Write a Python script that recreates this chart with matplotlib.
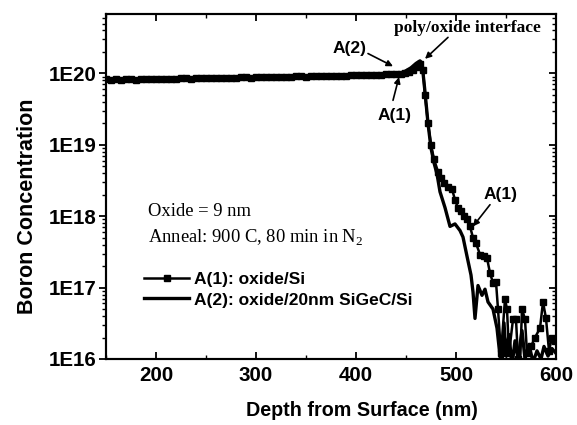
import matplotlib
matplotlib.use("Agg")
import matplotlib.pyplot as plt
from matplotlib.ticker import LogLocator, NullFormatter, MultipleLocator

# ---------------- data ----------------
a1_depth = [150, 155, 160, 165, 170, 175, 180, 185, 190, 195, 200, 205, 210, 215, 220,
            225, 230, 235, 240, 245, 250, 255, 260, 265, 270, 275, 280, 285, 290, 295,
            300, 305, 310, 315, 320, 325, 330, 335, 340, 345, 350, 355, 360, 365, 370,
            375, 380, 385, 390, 395, 400, 405, 410, 415, 420, 425, 430, 435, 440, 445,
            449, 453, 457, 461, 464, 467, 469, 472,
            475, 478, 482, 485, 488, 492, 496, 499, 502, 505, 508, 511, 514, 517, 520,
            524, 528, 531, 534, 537, 540, 542, 545, 549, 551, 553, 557, 560, 562, 564,
            566, 569, 571, 575, 579, 584, 587, 590, 593, 596, 599]
a1_conc = [8.3e19, 8.2e19, 8.3e19, 8.2e19, 8.3e19, 8.3e19, 8.2e19, 8.3e19, 8.4e19, 8.3e19,
           8.3e19, 8.4e19, 8.4e19, 8.3e19, 8.4e19, 8.5e19, 8.5e19, 8.4e19, 8.5e19, 8.6e19,
           8.6e19, 8.5e19, 8.6e19, 8.7e19, 8.7e19, 8.6e19, 8.7e19, 8.8e19, 8.8e19, 8.7e19,
           8.8e19, 8.9e19, 8.9e19, 8.8e19, 8.9e19, 9.0e19, 9.0e19, 8.9e19, 9.1e19, 9.1e19,
           9.0e19, 9.1e19, 9.2e19, 9.2e19, 9.1e19, 9.2e19, 9.3e19, 9.3e19, 9.3e19, 9.4e19,
           9.4e19, 9.4e19, 9.5e19, 9.5e19, 9.6e19, 9.6e19, 9.7e19, 9.7e19, 9.8e19, 9.9e19,
           1.01e20, 1.04e20, 1.1e20, 1.22e20, 1.35e20, 1.12e20, 5.0e19, 2.0e19,
           1.0e19, 6.3e18, 4.2e18, 3.4e18, 2.9e18, 2.6e18, 2.4e18, 1.7e18, 1.3e18, 1.17e18,
           1.0e18, 9.0e17, 7.2e17, 5.0e17, 4.2e17, 2.9e17, 2.75e17, 2.6e17, 1.6e17, 1.17e17,
           1.2e17, 5.0e16, 1.2e16, 6.9e16, 5.0e16, 1.2e16, 3.6e16, 3.6e16, 1.0e16, 8.0e15,
           5.0e16, 3.6e16, 1.2e16, 1.5e16, 2.0e16, 2.7e16, 6.3e16, 3.7e16, 1.3e16, 2.0e16,
           1.8e16]

a2_depth = [150, 170, 190, 210, 230, 250, 270, 290, 310, 330, 350, 370, 390, 410, 430,
            440, 448, 455, 460, 464, 466, 469, 472, 475, 478, 481, 484, 489, 494, 499,
            504, 507, 511, 515, 517, 519, 522, 526, 529, 532, 537, 541, 544, 546, 548,
            550, 553, 556, 559, 562, 566, 569, 573, 577, 581, 585, 588, 592, 596, 600]
a2_conc = [8.1e19, 8.2e19, 8.2e19, 8.3e19, 8.4e19, 8.5e19, 8.6e19, 8.7e19, 8.8e19, 8.9e19,
           9.0e19, 9.1e19, 9.3e19, 9.4e19, 9.6e19, 9.8e19, 1.05e20, 1.2e20, 1.38e20, 1.5e20,
           1.4e20, 5.5e19, 2.0e19, 9.0e18, 5.6e18, 3.9e18, 2.2e18, 1.32e18, 7.2e17, 7.8e17,
           6.3e17, 5.1e17, 2.75e17, 1.5e17, 8.7e16, 3.7e16, 1.07e17, 7.8e16, 9.5e16, 6.3e16,
           5.0e16, 2.7e16, 1.1e16, 8.0e15, 3.2e16, 1.1e16, 2.2e16, 8.0e15, 1.8e16, 1.0e16,
           2.5e16, 1.0e16, 1.6e16, 9.0e15, 1.3e16, 1.0e16, 1.5e16, 1.1e16, 1.4e16, 1.2e16]

y_ticks = [1e16, 1e17, 1e18, 1e19, 1e20]
y_tick_labels = ["1E16", "1E17", "1E18", "1E19", "1E20"]
x_ticks = [200, 300, 400, 500, 600]

plt.rcParams['mathtext.fontset'] = 'custom'
plt.rcParams['mathtext.rm'] = 'Liberation Serif'

W, H = 577, 425
fig = plt.figure(figsize=(W / 100, H / 100), dpi=100)
ax = fig.add_axes([106 / W, 1 - 359 / H, 450 / W, 345 / H])

ax.plot(a2_depth, a2_conc, color='black', lw=2.4, zorder=3,
        label="A(2): oxide/20nm SiGeC/Si")
ax.plot(a1_depth, a1_conc, color='black', lw=1.8, marker='s', ms=5, zorder=4,
        label="A(1): oxide/Si")

ax.set_yscale('log')
ax.set_xlim(150, 600)
ax.set_ylim(1e16, 6.8e20)

sans = 'Liberation Sans'
serif = 'Liberation Serif'

ax.set_yticks(y_ticks)
ax.set_yticklabels(y_tick_labels)
ax.yaxis.set_minor_locator(LogLocator(base=10, subs=range(2, 10)))
ax.yaxis.set_minor_formatter(NullFormatter())
ax.set_xticks(x_ticks)
ax.xaxis.set_minor_locator(MultipleLocator(50))

for lab in ax.get_xticklabels() + ax.get_yticklabels():
    lab.set_fontfamily(sans)
    lab.set_fontweight('bold')
    lab.set_fontsize(14.8)

ax.tick_params(axis='y', which='major', direction='out', length=5, width=1.3, pad=2)
ax.tick_params(axis='y', which='minor', direction='out', length=2.8, width=1.0)
ax.tick_params(axis='x', which='major', direction='in', length=5, width=1.3, pad=5,
               top=True)
ax.tick_params(axis='x', which='minor', direction='in', length=3, width=1.0, top=True)

axr = ax.twinx()
axr.set_yscale('log')
axr.set_ylim(ax.get_ylim())
axr.set_yticks(y_ticks)
axr.yaxis.set_minor_locator(LogLocator(base=10, subs=range(2, 10)))
axr.yaxis.set_minor_formatter(NullFormatter())
axr.tick_params(axis='y', which='major', direction='in', length=5, width=1.3,
                labelright=False)
axr.tick_params(axis='y', which='minor', direction='in', length=2.8, width=1.0)

for a in (ax, axr):
    for s in a.spines.values():
        s.set_linewidth(1.5)

ax.set_xlabel("Depth from Surface (nm)", fontfamily=sans, fontweight='bold',
              fontsize=14.2)
ax.xaxis.set_label_coords(0.569, -0.122)
ax.set_ylabel("Boron Concentration", fontfamily=sans, fontweight='bold',
              fontsize=15.5)
ax.yaxis.set_label_coords(-0.15, 0.443)

# annotations
arrow = dict(arrowstyle='-|>', color='black', lw=1.2, mutation_scale=9,
             shrinkA=0, shrinkB=0)
ax.text(511, 4.3e20, "poly/oxide interface", fontfamily=serif, fontweight='bold',
        fontsize=12.5, ha='center', va='center')
ax.annotate("", xy=(469, 1.6e20), xytext=(492, 3.2e20), arrowprops=arrow)

ax.text(394, 2.2e20, "A(2)", fontfamily=sans, fontweight='bold', fontsize=12.5,
        ha='center', va='center')
ax.annotate("", xy=(437, 1.26e20), xytext=(412, 1.9e20), arrowprops=arrow)

ax.text(439, 2.6e19, "A(1)", fontfamily=sans, fontweight='bold', fontsize=12.5,
        ha='center', va='center')
ax.annotate("", xy=(443, 8.9e19), xytext=(437, 4.2e19), arrowprops=arrow)

ax.text(545, 2.0e18, "A(1)", fontfamily=sans, fontweight='bold', fontsize=12.5,
        ha='center', va='center')
ax.annotate("", xy=(517, 7.2e17), xytext=(534, 1.45e18), arrowprops=arrow)

fig.text(148 / W, 1 - 212 / H, "Oxide = 9 nm", fontfamily=serif, fontsize=13.4,
         ha='left', va='center')
fig.text(148 / W, 1 - 238 / H, r"Anneal: 900 C, 80 min in N$_\mathrm{2}$",
         fontfamily=serif, fontsize=13.4, ha='left', va='center')

handles, labels = ax.get_legend_handles_labels()
leg = ax.legend(handles[::-1], labels[::-1], loc='upper left',
                bbox_to_anchor=(144 / W, 1 - 272 / H), bbox_transform=fig.transFigure,
                frameon=False, numpoints=1, handlelength=2.6, handletextpad=0.3,
                labelspacing=0.3, borderpad=0, borderaxespad=0,
                prop=dict(family=sans, weight='bold', size=12.5))

fig.savefig("out.png", dpi=100, facecolor='white')
